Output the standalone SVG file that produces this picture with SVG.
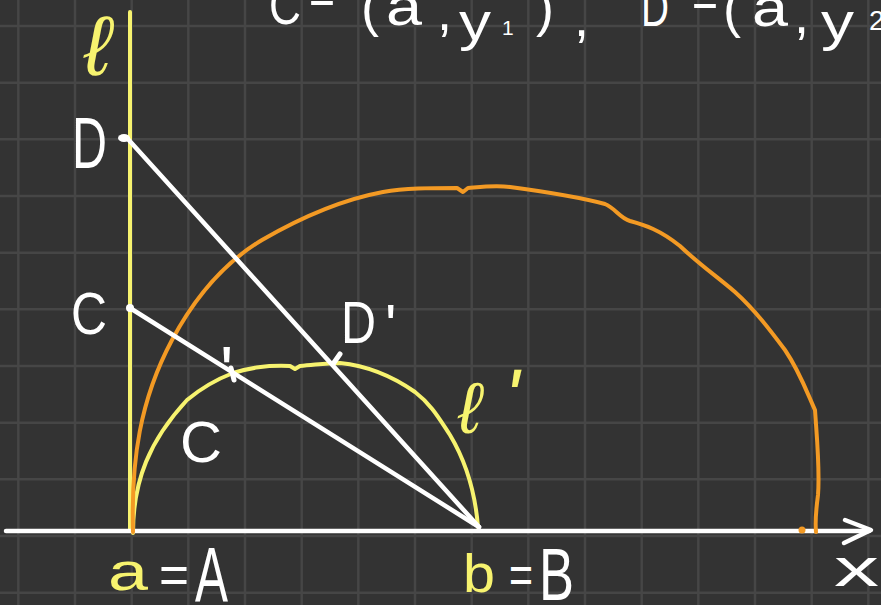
<svg xmlns="http://www.w3.org/2000/svg" width="881" height="605" viewBox="0 0 881 605">
<defs>
<style>
.grid{stroke:#464646;stroke-width:2.5;fill:none}
.w{fill:#ffffff;font-family:"Liberation Sans",Arial,sans-serif}
.y{fill:#f7f36f;font-family:"Liberation Sans",Arial,sans-serif}
.ln{fill:none;stroke-linecap:round;stroke-linejoin:round}
.white{stroke:#ffffff}
.yel{stroke:#f7f36f}
.org{stroke:#f39a24}
</style>
</defs>
<rect width="881" height="605" fill="#333333"/>
<g id="grid" class="grid">
<path d="M18.3,0V605M75,0V605M131.7,0V605M188.3,0V605M245,0V605M301.7,0V605M358.3,0V605M415,0V605M471.7,0V605M528.3,0V605M585,0V605M641.7,0V605M698.3,0V605M755,0V605M811.7,0V605M868.3,0V605"/>
<path d="M0,26H881M0,82.7H881M0,139.3H881M0,196H881M0,252.7H881M0,309.3H881M0,366H881M0,422.7H881M0,479.3H881M0,536H881M0,592.7H881"/>
</g>
<g id="title" class="w" font-size="54">
<text><tspan x="269" y="24" textLength="32" lengthAdjust="spacingAndGlyphs">C</tspan><tspan x="309" y="14" textLength="26" lengthAdjust="spacingAndGlyphs">=</tspan><tspan x="361" y="26">(</tspan><tspan x="386" y="25" textLength="36" lengthAdjust="spacingAndGlyphs">a</tspan><tspan x="437" y="30">,</tspan><tspan x="459" y="40" textLength="32" lengthAdjust="spacingAndGlyphs">y</tspan><tspan x="502" y="35" font-size="21">1</tspan><tspan x="536" y="26">)</tspan><tspan x="574" y="36">,</tspan><tspan x="641" y="26" textLength="28" lengthAdjust="spacingAndGlyphs">D</tspan><tspan x="692" y="17" textLength="26" lengthAdjust="spacingAndGlyphs">=</tspan><tspan x="723" y="27">(</tspan><tspan x="752" y="26" textLength="36" lengthAdjust="spacingAndGlyphs">a</tspan><tspan x="794" y="33">,</tspan><tspan x="821" y="40" textLength="33" lengthAdjust="spacingAndGlyphs">y</tspan><tspan x="869" y="30" font-size="28">2</tspan></text>
</g>
<g id="circle-small">
<path class="ln yel" stroke-width="4" d="M133,533 C133,480 150,440 187,400 C205,385 220,378 233,373 C250,368 265,365 290,366 L295,369 L300,366 C315,365 325,363 340,363 C370,366 395,378 415,392 C432,405 440,420 450,435 C465,460 475,490 478,527"/>
</g>
<g id="line-l">
<line class="ln yel" stroke-width="4" x1="130" y1="12" x2="130" y2="531"/>
</g>
<g id="connectors" class="ln white" stroke-width="4.5">
<line x1="6" y1="531" x2="869" y2="531"/>
<polyline points="845,520 871,530 844,543"/>
</g>
<g id="circle-big">
<path class="ln org" stroke-width="4" d="M133,532 C131,460 140,400 172,340 C195,297 225,262 262,240 C300,218 340,200 383,192 C405,188 430,188 457,188 L463,192 L468,188 C480,187 495,185 510,187 C540,191 575,196 605,204 C615,208 620,218 630,221 C645,225 660,230 680,246 C700,265 715,275 735,292 C755,310 770,330 785,350 C800,372 808,395 815,410 C817,440 820,470 818,495 C816,510 815,522 816,532"/>
<circle cx="802" cy="530" r="3.5" fill="#f39a24"/>
</g>
<g id="segments" class="ln white" stroke-width="4.5">
<line x1="127" y1="138" x2="479" y2="527"/>
<line x1="130" y1="308" x2="479" y2="527"/>
</g>
<g id="points" fill="#ffffff">
<ellipse cx="124" cy="138" rx="6" ry="4"/>
<circle cx="130" cy="308" r="4"/>
<path class="ln white" stroke-width="5" d="M231,368 L234,380"/>
<path class="ln white" stroke-width="5" d="M340,354 L333,364"/>
</g>
<g id="labels">
<text class="y" font-style="italic" font-size="84" x="84" y="75">ℓ</text>
<text class="w" font-size="72" x="72" y="168" textLength="35" lengthAdjust="spacingAndGlyphs">D</text>
<text class="w" font-size="60" x="71" y="334" textLength="36" lengthAdjust="spacingAndGlyphs">C</text>
<text class="w" font-size="60"><tspan x="341" y="343" textLength="35" lengthAdjust="spacingAndGlyphs">D</tspan><tspan x="385" y="346">'</tspan></text>
<text class="w" font-size="58"><tspan x="180" y="462" textLength="42" lengthAdjust="spacingAndGlyphs">C</tspan><tspan x="220" y="396" font-size="70">'</tspan></text>
<text class="y" font-style="italic"><tspan x="458" y="433" font-size="72">ℓ</tspan><tspan x="504" y="425" font-size="80">'</tspan></text>
<text class="w" font-size="54" x="834" y="586" textLength="45" lengthAdjust="spacingAndGlyphs">x</text>
<text class="y" font-size="54" x="108" y="590" textLength="40" lengthAdjust="spacingAndGlyphs">a</text>
<text class="w" font-size="54" x="159" y="593" textLength="30" lengthAdjust="spacingAndGlyphs">=</text>
<text class="w" font-size="78" x="195" y="602" textLength="33" lengthAdjust="spacingAndGlyphs">A</text>
<text class="y" font-size="53" x="463" y="592" textLength="32" lengthAdjust="spacingAndGlyphs">b</text>
<text class="w" font-size="54" x="509" y="593" textLength="24" lengthAdjust="spacingAndGlyphs">=</text>
<text class="w" font-size="74" x="539" y="600" textLength="35" lengthAdjust="spacingAndGlyphs">B</text>
</g>
</svg>
